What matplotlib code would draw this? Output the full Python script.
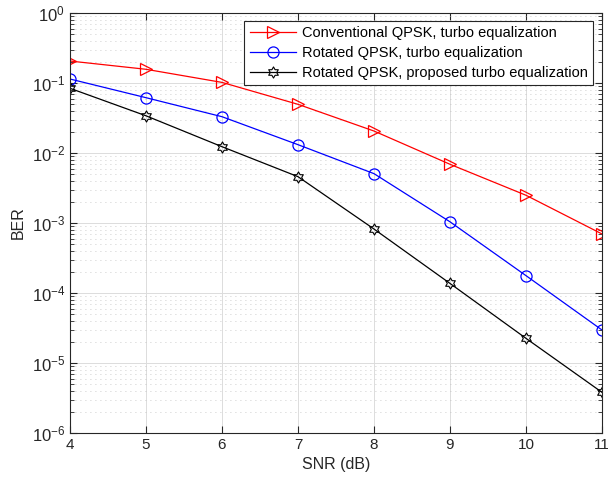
import numpy as np
import matplotlib
matplotlib.use("Agg")
import matplotlib.pyplot as plt
from matplotlib.path import Path
from matplotlib.ticker import LogLocator, NullFormatter, LogFormatterSciNotation

plt.rcParams['font.family'] = ['Liberation Sans', 'DejaVu Sans']
plt.rcParams['mathtext.default'] = 'regular'

snr = [4, 5, 6, 7, 8, 9, 10, 11]
ber_conv = [0.206, 0.157, 0.102, 0.0496, 0.0206, 0.0069, 0.00249, 0.000697]
ber_rot = [0.114, 0.0617, 0.033, 0.01315, 0.00507, 0.00104, 0.000177, 2.96e-5]
ber_prop = [0.084, 0.034, 0.0123, 0.00459, 0.00082, 0.000137, 2.25e-5, 3.81e-6]
labels = ["Conventional QPSK, turbo equalization",
          "Rotated QPSK, turbo equalization",
          "Rotated QPSK, proposed turbo equalization"]

# hexagram marker
verts = []
for k in range(12):
    ang = np.pi / 2 + k * np.pi / 6
    r = 1.0 if k % 2 == 0 else 1.0 / np.sqrt(3)
    verts.append((r * np.cos(ang), r * np.sin(ang)))
verts.append(verts[0])
codes = [Path.MOVETO] + [Path.LINETO] * 11 + [Path.CLOSEPOLY]
hexagram = Path(verts, codes)

fig = plt.figure(figsize=(6.08, 4.87), dpi=100)
ax = fig.add_axes([70 / 608, 54 / 487, 532 / 608, 420 / 487])

ax.semilogy(snr, ber_conv, color='#ff0000', lw=0.9, marker='>', ms=8.5,
            mfc='none', mec='#ff0000', mew=0.9, label=labels[0])
ax.semilogy(snr, ber_rot, color='#0000ff', lw=0.9, marker='o', ms=8,
            mfc='none', mec='#0000ff', mew=0.9, label=labels[1])
ax.semilogy(snr, ber_prop, color='black', lw=0.9, marker=hexagram, ms=8,
            mfc='none', mec='black', mew=0.8, label=labels[2])

ax.set_xlim(4, 11)
ax.set_ylim(1e-6, 1e0)
ax.set_xticks(snr)
ax.yaxis.set_major_locator(LogLocator(base=10, numticks=10))
ax.yaxis.set_minor_locator(LogLocator(base=10, subs=np.arange(2, 10), numticks=20))
ax.yaxis.set_minor_formatter(NullFormatter())
ax.yaxis.set_major_formatter(LogFormatterSciNotation())

ax.grid(True, which='major', color='#dcdcdc', lw=0.7, ls='-')
ax.grid(True, which='minor', axis='y', color='#bdbdbd', lw=0.6, ls=(0, (1, 5)))
ax.set_axisbelow(True)

ax.tick_params(which='both', direction='in', top=True, right=True,
               color='#262626', labelsize=11, labelcolor='#262626')
ax.tick_params(which='major', length=5)
ax.tick_params(which='minor', length=3)
ax.tick_params(axis='y', labelsize=12)
for s in ax.spines.values():
    s.set_color('#262626')
    s.set_linewidth(0.8)

ax.set_xlabel("SNR (dB)", fontsize=11.5, color='#262626')
ax.set_ylabel("BER", fontsize=11.5, color='#262626')

leg = ax.legend(loc='upper right', bbox_to_anchor=(593 / 608, 466 / 487),
                bbox_transform=fig.transFigure, fontsize=10.5, fancybox=False,
                framealpha=1, edgecolor='#262626', borderpad=0.35,
                labelspacing=0.4, handlelength=3.2, handletextpad=0.4,
                borderaxespad=0)
leg.get_frame().set_linewidth(0.8)

fig.savefig("out.png", dpi=100)
